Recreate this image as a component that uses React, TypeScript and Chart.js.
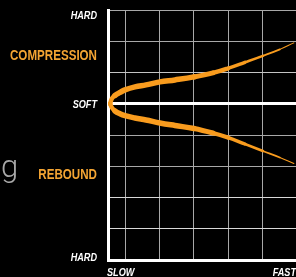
import { useEffect, useRef } from 'react';
import { Chart, registerables } from 'chart.js';

Chart.register(...registerables);

// Speed axis (x): grid ticks and range ends
const speedGridTicks = [0, 1, 2, 3, 4];
const speedMin = -0.5;
const speedMax = 4.97;
const speedLabels = ['SLOW', 'FAST'];

// Force axis (y): grid ticks, label positions and texts
const forceGridTicks = [-5, -4, -3, -2, -1, 0, 1, 2, 3];
const forceLabelValues = [2.85, 1.56, 0, -2.24, -4.9];
const forceLabels = ['HARD', 'COMPRESSION', 'SOFT', 'REBOUND', 'HARD'];
const accentLabels = ['COMPRESSION', 'REBOUND'];

// Curves
const curveSpeed = [-0.44, -0.384, -0.297, -0.151, -0.006, 0.285, 0.605, 1.012, 1.448, 2.0, 2.552, 2.988, 3.483, 4.006, 4.5, 4.907];
const compressionForce = [0, 0.17, 0.266, 0.362, 0.442, 0.538, 0.603, 0.699, 0.763, 0.859, 0.987, 1.131, 1.324, 1.532, 1.74, 1.949];
const reboundForce = [0, -0.13, -0.23, -0.32, -0.38, -0.455, -0.519, -0.615, -0.696, -0.792, -0.936, -1.08, -1.288, -1.513, -1.721, -1.913];

const sideText = 'g';

const ORANGE = '#f99c1e';
const LABEL_ORANGE = '#f4a533';
const FONT = "'Liberation Sans', Arial, sans-serif";

function widthAt(x: number): number {
  if (x < -0.3) return 4.5;
  if (x < 2) return 5.5;
  const t = (x - 2) / (4.9 - 2);
  return Math.max(0.6, 5.5 - 4.8 * t);
}

function narrowText(c: CanvasRenderingContext2D, text: string, x: number, yCenter: number, size: number, italic: boolean, color: string, align: CanvasTextAlign, sx: number) {
  c.save();
  c.font = `${italic ? 'italic ' : ''}bold ${size}px ${FONT}`;
  c.fillStyle = color;
  c.textAlign = align;
  c.textBaseline = 'alphabetic';
  c.translate(x, yCenter + 0.358 * size);
  c.scale(sx, 1);
  c.fillText(text, 0, 0);
  c.restore();
}

const labelsPlugin = {
  id: 'axisTexts',
  afterDraw(chart: any) {
    const c: CanvasRenderingContext2D = chart.ctx;
    const ys = chart.scales.y;
    const xs = chart.scales.x;
    const labelRight = chart.chartArea.left - 11;
    forceLabels.forEach((t, i) => {
      const py = ys.getPixelForValue(forceLabelValues[i]);
      const accent = accentLabels.includes(t);
      narrowText(c, t, labelRight, py, accent ? 14.5 : 11, !accent, accent ? LABEL_ORANGE : '#ffffff', 'right', accent ? 0.8 : 0.83);
    });
    const ly = chart.chartArea.bottom + 12;
    narrowText(c, speedLabels[0], xs.getPixelForValue(speedMin) - 1, ly, 11, true, '#ffffff', 'left', 0.83);
    narrowText(c, speedLabels[1], xs.getPixelForValue(speedMax), ly, 11, true, '#ffffff', 'right', 0.83);

    c.save();
    c.font = '300 31px Roboto, sans-serif';
    c.fillStyle = '#a8a8a8';
    c.textBaseline = 'alphabetic';
    c.textAlign = 'left';
    c.fillText(sideText, 1, 177);
    c.restore();
  },
};

export default function App() {
  const ref = useRef<HTMLCanvasElement | null>(null);
  useEffect(() => {
    document.body.style.margin = '0';
    document.body.style.background = '#000';
    const canvas = ref.current!;
    const makeData = (ys: number[]) => curveSpeed.map((x, i) => ({ x, y: ys[i] }));
    const lineDs = (label: string, ys: number[]) => ({
      label,
      data: makeData(ys),
      borderColor: ORANGE,
      borderWidth: 5,
      borderCapStyle: 'round' as const,
      borderJoinStyle: 'round' as const,
      pointRadius: 0,
      tension: 0.4,
      fill: false,
      segment: {
        borderWidth: (ctx: any) => widthAt((ctx.p0.parsed.x + ctx.p1.parsed.x) / 2),
      },
    });
    const chart = new Chart(canvas, {
      type: 'line',
      data: {
        datasets: [lineDs('Compression', compressionForce), lineDs('Rebound', reboundForce)],
      },
      plugins: [labelsPlugin],
      options: {
        animation: false,
        responsive: false,
        maintainAspectRatio: false,
        devicePixelRatio: 1,
        layout: { padding: { top: 10, left: 0, right: 0, bottom: 0 } },
        plugins: { legend: { display: false }, tooltip: { enabled: false } },
        scales: {
          x: {
            type: 'linear',
            min: speedMin,
            max: speedMax,
            afterBuildTicks: (s: any) => {
              s.ticks = [speedMin, ...speedGridTicks, speedMax].map((v) => ({ value: v }));
            },
            afterFit: (s: any) => {
              s.height = 17;
            },
            grid: {
              color: (ctx: any) =>
                ctx.tick && speedGridTicks.includes(ctx.tick.value) ? '#a8a8a8' : 'rgba(0,0,0,0)',
              lineWidth: 1,
              drawTicks: false,
            },
            border: { color: '#ffffff', width: 3 },
            ticks: { display: false },
          },
          y: {
            type: 'linear',
            min: -5,
            max: 3,
            afterBuildTicks: (s: any) => {
              s.ticks = forceGridTicks.map((v) => ({ value: v }));
            },
            afterFit: (s: any) => {
              s.width = 108;
            },
            grid: {
              color: (ctx: any) => {
                const v = ctx.tick ? ctx.tick.value : NaN;
                if (v === -5) return 'rgba(0,0,0,0)';
                if (v === 0) return '#ffffff';
                if (v === -3 || v === -4) return '#d8d8d8';
                if (v === 1) return '#c4c4c4';
                return '#a8a8a8';
              },
              lineWidth: (ctx: any) => (ctx.tick && ctx.tick.value === 0 ? 3 : 1),
              drawTicks: false,
            },
            border: { color: '#ffffff', width: 3 },
            ticks: { display: false },
          },
        },
      } as any,
    });
    return () => chart.destroy();
  }, []);
  return (
    <canvas
      ref={ref}
      width={296}
      height={277}
      style={{ position: 'fixed', left: 0, top: 0, width: 296, height: 277, background: '#000' }}
    />
  );
}
